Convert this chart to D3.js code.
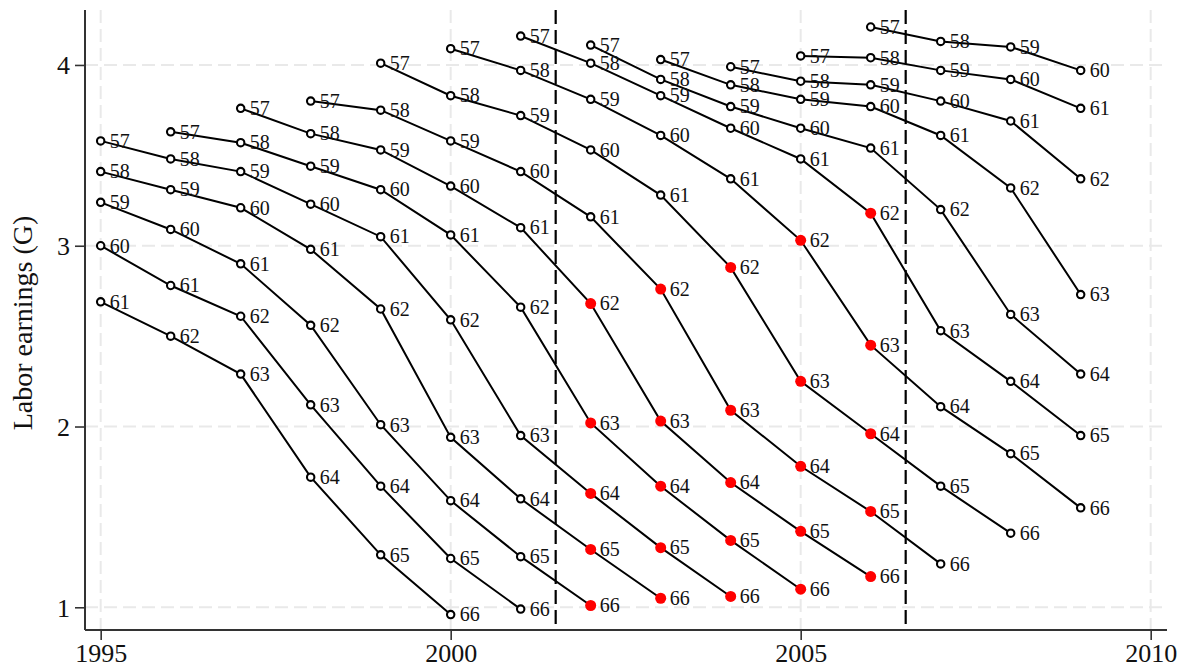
<!DOCTYPE html>
<html>
<head>
<meta charset="utf-8">
<script src="https://cdn.jsdelivr.net/npm/d3@7"></script>
<style>
  body { margin: 0; background: #fff; }
  svg { display: block; }
  text { font-family: "Liberation Serif", "DejaVu Serif", serif; fill: #111; }
</style>
</head>
<body>
<svg id="chart" width="1185" height="668"></svg>
<script>
// Calendar years observed and the ages followed (57–66)
const years = [1995, 1996, 1997, 1998, 1999, 2000, 2001, 2002, 2003, 2004, 2005, 2006, 2007, 2008, 2009];
const ages = [57, 58, 59, 60, 61, 62, 63, 64, 65, 66];

// Mean labor earnings (G) by age, one entry per calendar year (null = not observed)
const age57 = [3.58, 3.63, 3.76, 3.80, 4.01, 4.09, 4.16, 4.11, 4.03, 3.99, 4.05, 4.21, null, null, null];
const age58 = [3.41, 3.48, 3.57, 3.62, 3.75, 3.83, 3.97, 4.01, 3.92, 3.89, 3.91, 4.04, 4.13, null, null];
const age59 = [3.24, 3.31, 3.41, 3.44, 3.53, 3.58, 3.72, 3.81, 3.83, 3.77, 3.81, 3.89, 3.97, 4.10, null];
const age60 = [3.00, 3.09, 3.21, 3.23, 3.31, 3.33, 3.41, 3.53, 3.61, 3.65, 3.65, 3.77, 3.80, 3.92, 3.97];
const age61 = [2.69, 2.78, 2.90, 2.98, 3.05, 3.06, 3.10, 3.16, 3.28, 3.37, 3.48, 3.54, 3.61, 3.69, 3.76];
const age62 = [null, 2.50, 2.61, 2.56, 2.65, 2.59, 2.66, 2.68, 2.76, 2.88, 3.03, 3.18, 3.20, 3.32, 3.37];
const age63 = [null, null, 2.29, 2.12, 2.01, 1.94, 1.95, 2.02, 2.03, 2.09, 2.25, 2.45, 2.53, 2.62, 2.73];
const age64 = [null, null, null, 1.72, 1.67, 1.59, 1.60, 1.63, 1.67, 1.69, 1.78, 1.96, 2.11, 2.25, 2.29];
const age65 = [null, null, null, null, 1.29, 1.27, 1.28, 1.32, 1.33, 1.37, 1.42, 1.53, 1.67, 1.85, 1.95];
const age66 = [null, null, null, null, null, 0.96, 0.99, 1.01, 1.05, 1.06, 1.10, 1.17, 1.24, 1.41, 1.55];

const earningsByAge = [age57, age58, age59, age60, age61, age62, age63, age64, age65, age66];

const xTickValues = [1995, 2000, 2005, 2010];
const yTickValues = [1, 2, 3, 4];
const reformLines = [2001.5, 2006.5];
// Observations inside the reform window at ages 62+ are highlighted
const highlightYears = [2002, 2006];
const highlightMinAge = 62;

const svg = d3.select("#chart");
const plotLeft = 85, plotRight = 1167, plotTop = 10, plotBottom = 630;

const x = d3.scaleLinear().domain([1994.776, 2010.233]).range([plotLeft, plotRight]);
const y = d3.scaleLinear().domain([0.8744, 4.304]).range([plotBottom, plotTop]);

// Flatten into points
const points = [];
ages.forEach((age, ai) => {
  years.forEach((yr, yi) => {
    const v = earningsByAge[ai][yi];
    if (v !== null) points.push({ year: yr, age, value: v, cohort: yr - age });
  });
});

// Background grid
const grid = svg.append("g").attr("stroke", "#e9e9e9").attr("stroke-width", 2).attr("stroke-dasharray", "13,6");
grid.selectAll("line.h").data(yTickValues).join("line").attr("class", "h")
  .attr("x1", plotLeft).attr("x2", plotRight)
  .attr("y1", d => y(d)).attr("y2", d => y(d));
grid.selectAll("line.v").data(xTickValues).join("line").attr("class", "v")
  .attr("x1", d => x(d)).attr("x2", d => x(d))
  .attr("y1", plotTop).attr("y2", plotBottom);

// Reform markers
svg.append("g").selectAll("line").data(reformLines).join("line")
  .attr("x1", d => x(d)).attr("x2", d => x(d))
  .attr("y1", plotTop).attr("y2", plotBottom)
  .attr("stroke", "#000").attr("stroke-width", 2.2).attr("stroke-dasharray", "14,6");

// Axes
const yAxis = d3.axisLeft(y).tickValues(yTickValues).tickSize(10).tickPadding(5).tickSizeOuter(0).tickFormat(d3.format("d"));
const gy = svg.append("g").attr("transform", `translate(${plotLeft},0)`).call(yAxis);
gy.select(".domain").attr("stroke", "#333").attr("stroke-width", 2).attr("d", `M0,${plotTop}V${plotBottom}`);
gy.selectAll(".tick line").attr("stroke", "#333").attr("stroke-width", 1.6);
gy.selectAll(".tick text").attr("font-size", 26).attr("font-family", "Liberation Serif").attr("fill", "#111").attr("dy", "0.34em");

const xAxis = d3.axisBottom(x).tickValues(xTickValues).tickSize(10).tickPadding(4).tickSizeOuter(0).tickFormat(d3.format("d"));
const gx = svg.append("g").attr("transform", `translate(0,${plotBottom})`).call(xAxis);
gx.select(".domain").attr("stroke", "#333").attr("stroke-width", 2).attr("d", `M${plotLeft},0H${plotRight}`);
gx.selectAll(".tick line").attr("stroke", "#333").attr("stroke-width", 1.6);
gx.selectAll(".tick text").attr("font-size", 26).attr("font-family", "Liberation Serif").attr("fill", "#111").attr("dy", "0.7em");

// Y axis title
svg.append("text")
  .attr("transform", "translate(32,323) rotate(-90)")
  .attr("text-anchor", "middle")
  .attr("font-size", 28)
  .text("Labor earnings (G)");

// Cohort lines
const cohorts = d3.groups(points, d => d.cohort);
const line = d3.line().x(d => x(d.year)).y(d => y(d.value));
svg.append("g").selectAll("path").data(cohorts).join("path")
  .attr("d", d => line(d[1].sort((a, b) => a.year - b.year)))
  .attr("fill", "none").attr("stroke", "#000").attr("stroke-width", 2);

const isHighlight = d => d.year >= highlightYears[0] && d.year <= highlightYears[1] && d.age >= highlightMinAge;

// Markers
svg.append("g").selectAll("circle").data(points).join("circle")
  .attr("cx", d => x(d.year)).attr("cy", d => y(d.value))
  .attr("r", d => isHighlight(d) ? 5.5 : 3.7)
  .attr("fill", d => isHighlight(d) ? "#ff0000" : "#fff")
  .attr("stroke", d => isHighlight(d) ? "none" : "#000")
  .attr("stroke-width", 2.1);

// Age labels
svg.append("g").selectAll("text").data(points).join("text")
  .attr("x", d => x(d.year) + 9)
  .attr("y", d => y(d.value))
  .attr("dy", "0.34em")
  .attr("font-size", 20)
  .text(d => d.age);
</script>
</body>
</html>
